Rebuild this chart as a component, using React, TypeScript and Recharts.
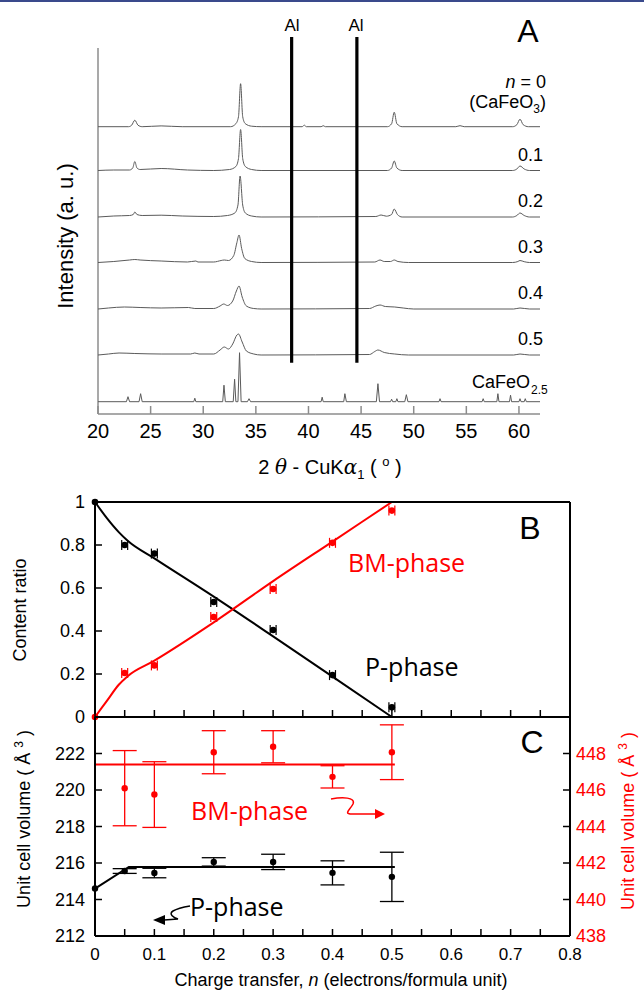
import React from 'react';
import { ComposedChart, Line, Scatter, XAxis, YAxis, ErrorBar } from 'recharts';

const ARIAL = '"Liberation Sans", Arial, sans-serif';
const PHASE = '"Open Sans", sans-serif';
const RED = '#ff0000';
const GREY = '#8c8c8c';
const TRACE = '#5a5a5a';

// ---------- panel A: XRD patterns ----------
const twoThetaTicks = [20, 25, 30, 35, 40, 45, 50, 55, 60];
const alPeaks = [38.4, 44.6];
const sampleLabels = ['0.1', '0.2', '0.3', '0.4', '0.5'];

// [2theta, intensity above the pattern's own baseline]
const xrdN00 = [
  [20, 0], [22.9, 0], [23.2, 1.5], [23.5, 6.5], [23.8, 1.5], [24.2, 0], [26, 0.8], [28, 0],
  [32.6, 0], [33.1, 3], [33.35, 10], [33.55, 43], [33.75, 10], [34.0, 3], [34.6, 0.5], [35.5, 0],
  [39.4, 0], [39.6, 1.5], [39.8, 0], [41.2, 0], [41.4, 1], [41.6, 0],
  [47.5, 0], [47.9, 3], [48.15, 14.5], [48.4, 3], [48.9, 0], [54.0, 0], [54.4, 1], [54.8, 0],
  [59.4, 0], [59.8, 2], [60.1, 7.5], [60.4, 2], [60.9, 0], [62, 0],
];
const xrdN01 = [
  [20, 0], [21.5, 0.5], [23.0, 0.5], [23.3, 2.5], [23.5, 9], [23.7, 2.5], [24.0, 1], [26, 2], [28.5, 0.5],
  [31, 0], [32.5, 1], [33.1, 4], [33.35, 12], [33.55, 41], [33.75, 12], [34.0, 4], [34.6, 1], [35.5, 0],
  [47.5, 0], [47.9, 2.5], [48.15, 9.5], [48.4, 2.5], [48.9, 0],
  [59.4, 0], [59.8, 1.5], [60.1, 4.5], [60.5, 1.5], [61, 0], [62, 0],
];
const xrdN02 = [
  [20, 0], [21.5, 1], [23.0, 1.5], [23.35, 2.5], [23.5, 5], [23.7, 2.5], [24.2, 1.5], [26, 1.8], [28, 1],
  [31, 0.5], [32.3, 1.5], [33.0, 4], [33.3, 12], [33.5, 41], [33.75, 12], [34.0, 4], [34.6, 1], [35.5, 0],
  [46.4, 0.5], [46.9, 2], [47.4, 0.8], [47.9, 2.5], [48.15, 8], [48.45, 2.5], [48.9, 0],
  [59.4, 0], [59.8, 1.5], [60.1, 4], [60.5, 1.5], [61, 0], [62, 0],
];
const xrdN03 = [
  [20, 0], [21.5, 1], [23.0, 2.5], [23.5, 3], [24.0, 2.5], [26, 1.5], [28.5, 0.5], [29.3, 1.5], [29.5, 0.5],
  [31, 0.5], [31.7, 2], [32.0, 2.5], [32.4, 2], [32.9, 7], [33.2, 20], [33.4, 27.5], [33.65, 14], [33.95, 4],
  [34.6, 1], [35.5, 0], [46.3, 0.5], [46.8, 2.5], [47.2, 1], [47.8, 1], [48.15, 2.5], [48.5, 1], [49.5, 0],
  [59.4, 0], [59.9, 1], [60.1, 2], [60.5, 0.8], [61, 0], [62, 0],
];
const xrdN04 = [
  [20, 0], [21, 1], [22.5, 2], [24, 1.5], [26, 1], [28.6, 1.5], [29.2, 0.5], [31, 0.5], [31.6, 3],
  [31.95, 5], [32.3, 3.5], [32.8, 8], [33.15, 18], [33.4, 23], [33.7, 12], [34.1, 3], [34.8, 0.5], [35.5, 0],
  [45.8, 0.5], [46.4, 3], [46.8, 4], [47.3, 2.5], [48.2, 2], [49, 1], [50, 0],
  [59.5, 0], [60.1, 1], [61, 0], [62, 0],
];
const xrdN05 = [
  [20, 0], [21, 1], [22.0, 2], [23.5, 1.5], [26, 1], [28.8, 1], [29.2, 2], [29.6, 1], [31, 1],
  [31.6, 5], [32.0, 8], [32.4, 6], [32.8, 11], [33.2, 20], [33.35, 21], [33.7, 13], [34.1, 4], [34.8, 1],
  [35.5, 0], [45.8, 0.5], [46.3, 3.5], [46.6, 5], [47.2, 2.5], [48.2, 1], [49.5, 0],
  [59.5, 0], [60.1, 1], [61, 0], [62, 0],
];
const xrdBrownmillerite = [
  [20, 0], [22.7, 0], [22.85, 5], [23.0, 0], [23.9, 0], [24.05, 8], [24.2, 0], [29.1, 0], [29.2, 3.5],
  [29.3, 0], [31.85, 0], [31.97, 16.5], [32.1, 0], [32.85, 0], [32.98, 22.5], [33.1, 0], [33.3, 0],
  [33.45, 49], [33.6, 0], [34.2, 0], [34.35, 3], [34.5, 0], [41.2, 0], [41.3, 4.5], [41.4, 0],
  [43.35, 0], [43.46, 8], [43.6, 0], [46.45, 0], [46.6, 18], [46.75, 0], [47.8, 0], [47.9, 2.5],
  [48.0, 0], [48.3, 0], [48.4, 3], [48.5, 0], [49.15, 0], [49.3, 7], [49.45, 0], [52.4, 0], [52.5, 3],
  [52.6, 0], [56.5, 0], [56.6, 3], [56.7, 0], [57.9, 0], [58.0, 8], [58.1, 0], [59.1, 0], [59.2, 6.5],
  [59.3, 0], [60.0, 0], [60.1, 3], [60.2, 0], [60.5, 0], [60.6, 3], [60.7, 0], [62, 0],
];
const xrdPatterns = [xrdN00, xrdN01, xrdN02, xrdN03, xrdN04, xrdN05, xrdBrownmillerite];
// vertical stacking of the patterns (plot units = px above the 2theta axis)
const stackBase = [287.3, 243.5, 197, 151.5, 105, 59, 12.3];

// ---------- panel B: content ratio ----------
const nTicks = [0, 0.05, 0.1, 0.15, 0.2, 0.25, 0.3, 0.35, 0.4, 0.45, 0.5, 0.55, 0.6, 0.65, 0.7, 0.75, 0.8];
const ratioTicks = [0, 0.2, 0.4, 0.6, 0.8, 1];
const nSamples = [0, 0.05, 0.1, 0.2, 0.3, 0.4, 0.5];
const pContent = [1, 0.8, 0.76, 0.535, 0.405, 0.195, 0.045];
const bmContent = [0, 0.205, 0.24, 0.465, 0.595, 0.81, 0.96];
const contentErr = [0, 0.005, 0.005, 0.005, 0.005, 0.005, 0.005];
const fitN = [0, 0.02, 0.04, 0.055, 0.1, 0.2, 0.3, 0.4, 0.5];
const pContentFit = [1, 0.925, 0.86, 0.82, 0.738, 0.56, 0.375, 0.188, 0];
const bmContentFit = [0, 0.075, 0.15, 0.19, 0.262, 0.44, 0.632, 0.816, 1];

// ---------- panel C: unit cell volume ----------
const pVolTicks = [212, 214, 216, 218, 220, 222];
const bmVolTicks = [438, 440, 442, 444, 446, 448];
const pVol = [214.6, 215.56, 215.45, 216.06, 216.06, 215.46, 215.24];
const pVolErr = [0, 0.13, 0.26, 0.23, 0.42, 0.66, 1.35];
const bmN = [0.05, 0.1, 0.2, 0.3, 0.4, 0.5];
const bmVol = [446.1, 445.75, 448.07, 448.37, 446.72, 448.07];
const bmVolErr = [2.06, 1.8, 1.18, 0.88, 0.61, 1.5];
const pVolFitN = [0, 0.057, 0.505];
const pVolFit = [214.6, 215.78, 215.78];
const bmVolFitN = [0, 0.505];
const bmVolFit = [447.4, 447.4];

const pts = (xs: number[], ys: number[], errs?: number[], key = 'e') =>
  xs.map((x, i) => ({ x, y: ys[i], ...(errs ? { [key]: errs[i] } : {}) }));

const fmt = (v: number) => String(v);

// ticks drawn by hand so they point into the plot
const bottomTick = (len: number, size: number, dy: number, color: string, every?: (v: number) => boolean) =>
  (p: any) => {
    const v = p.payload.value;
    return (
      <g>
        <line x1={p.x} x2={p.x} y1={p.y} y2={p.y - len} stroke={color} strokeWidth={1.5} />
        {every && every(v) ? (
          <text x={p.x} y={p.y + dy} textAnchor="middle" fontSize={size} fontFamily={ARIAL} fill="#000">
            {fmt(v)}
          </text>
        ) : null}
      </g>
    );
  };
const topTick = (p: any) => (
  <line x1={p.x} x2={p.x} y1={p.y} y2={p.y + 7} stroke="#000" strokeWidth={1.5} />
);
const leftTick = (color: string) => (p: any) => (
  <g>
    <line x1={p.x} x2={p.x + 7} y1={p.y} y2={p.y} stroke="#000" strokeWidth={1.5} />
    <text x={p.x - 10} y={p.y + 6} textAnchor="end" fontSize={18} fontFamily={ARIAL} fill={color}>
      {fmt(p.payload.value)}
    </text>
  </g>
);
const rightTick = (color: string | null) => (p: any) => (
  <g>
    <line x1={p.x} x2={p.x - 7} y1={p.y} y2={p.y} stroke="#000" strokeWidth={1.5} />
    {color ? (
      <text x={p.x + 6} y={p.y + 6} textAnchor="start" fontSize={18} fontFamily={ARIAL} fill={color}>
        {fmt(p.payload.value)}
      </text>
    ) : null}
  </g>
);

const dot = (color: string, r: number) => (p: any) => <circle cx={p.cx} cy={p.cy} r={r} fill={color} />;

const frame = { stroke: '#000', strokeWidth: 2 };
const onTenth = (v: number) => Math.round(v * 100) % 10 === 0;

const Txt = ({ x, y, anchor = 'middle', size = 18, color = '#000', rotate = 0, family = ARIAL, children }: any) => {
  const tx = anchor === 'middle' ? '-50%' : anchor === 'end' ? '-100%' : '0';
  return (
    <div
      style={{
        position: 'absolute',
        left: x,
        top: y,
        transform: `translate(${tx}, -50%)${rotate ? ` rotate(${rotate}deg)` : ''}`,
        fontFamily: family,
        fontSize: size,
        color,
        lineHeight: 1,
        whiteSpace: 'nowrap',
      }}
    >
      {children}
    </div>
  );
};

const sub = (s: string, size = 12) => (
  <span style={{ fontSize: size, verticalAlign: 'sub', lineHeight: 0 }}>{s}</span>
);
const sup = (s: string, size = 12) => (
  <span style={{ fontSize: size, verticalAlign: 'super', lineHeight: 0 }}>{s}</span>
);

const XrdPanel = () => (
  <ComposedChart width={644} height={480} margin={{ top: 37, right: 104, bottom: 6, left: 98 }}>
    <XAxis
      type="number"
      dataKey="x"
      domain={[20, 62]}
      ticks={twoThetaTicks}
      interval={0}
      height={60}
      tickSize={0}
      tickMargin={0}
      tickLine={false}
      axisLine={{ stroke: GREY, strokeWidth: 1.5 }}
      tick={bottomTick(8, 20, 24, GREY, () => true)}
    />
    <YAxis type="number" dataKey="y" domain={[0, 377]} hide />
    <Line
      data={[{ x: 20, y: 0 }, { x: 20, y: 366 }]}
      dataKey="y"
      stroke={GREY}
      strokeWidth={1.5}
      dot={false}
      activeDot={false}
      isAnimationActive={false}
    />
    {xrdPatterns.map((pat, i) => (
      <Line
        key={i}
        data={pat.map(([x, v]) => ({ x, y: v + stackBase[i] }))}
        dataKey="y"
        type={i === 6 ? 'linear' : 'monotone'}
        stroke={TRACE}
        strokeWidth={1}
        dot={false}
        activeDot={false}
        isAnimationActive={false}
      />
    ))}
    {alPeaks.map((a) => (
      <Line
        key={a}
        data={[{ x: a, y: 51.3 }, { x: a, y: 377 }]}
        dataKey="y"
        stroke="#000"
        strokeWidth={3.2}
        dot={false}
        activeDot={false}
        isAnimationActive={false}
      />
    ))}
  </ComposedChart>
);

const ContentPanel = () => (
  <ComposedChart width={644} height={260} margin={{ top: 12, right: 34, bottom: 13, left: 55 }}>
    <XAxis xAxisId="b" type="number" dataKey="x" domain={[0, 0.8]} ticks={nTicks} interval={0} height={10}
      tickSize={0} tickMargin={0} tickLine={false} axisLine={frame} tick={bottomTick(7, 17, 24, '#000')} />
    <XAxis xAxisId="t" orientation="top" type="number" dataKey="x" domain={[0, 0.8]} ticks={nTicks} interval={0}
      height={10} tickSize={0} tickMargin={0} tickLine={false} axisLine={frame} tick={topTick} />
    <YAxis yAxisId="l" type="number" dataKey="y" domain={[0, 1]} ticks={ratioTicks} interval={0} width={40}
      tickSize={0} tickMargin={0} tickLine={false} axisLine={frame} tick={leftTick('#000')} />
    <YAxis yAxisId="r" orientation="right" type="number" dataKey="y" domain={[0, 1]} ticks={ratioTicks} interval={0}
      width={40} tickSize={0} tickMargin={0} tickLine={false} axisLine={frame} tick={rightTick(null)} />
    <Line xAxisId="b" yAxisId="l" data={pts(fitN, pContentFit)} dataKey="y" type="monotone" stroke="#000"
      strokeWidth={2} dot={false} activeDot={false} isAnimationActive={false} />
    <Line xAxisId="b" yAxisId="l" data={pts(fitN, bmContentFit)} dataKey="y" type="monotone" stroke={RED}
      strokeWidth={2} dot={false} activeDot={false} isAnimationActive={false} />
    <Scatter xAxisId="b" yAxisId="l" data={pts(nSamples, pContent, contentErr)} dataKey="y" shape={dot('#000', 3.3)}
      isAnimationActive={false}>
      <ErrorBar dataKey="e" direction="x" width={5} stroke="#000" strokeWidth={1.2} />
    </Scatter>
    <Scatter xAxisId="b" yAxisId="l" data={pts(nSamples, bmContent, contentErr)} dataKey="y" shape={dot(RED, 3.3)}
      isAnimationActive={false}>
      <ErrorBar dataKey="e" direction="x" width={5} stroke={RED} strokeWidth={1.2} />
    </Scatter>
  </ComposedChart>
);

const VolumePanel = () => (
  <ComposedChart width={644} height={291} margin={{ top: 7, right: 34, bottom: 25, left: 55 }}>
    <XAxis xAxisId="b" type="number" dataKey="x" domain={[0, 0.8]} ticks={nTicks} interval={0} height={30}
      tickSize={0} tickMargin={0} tickLine={false} axisLine={frame} tick={bottomTick(7, 17, 24, '#000', onTenth)} />
    <XAxis xAxisId="t" orientation="top" type="number" dataKey="x" domain={[0, 0.8]} ticks={nTicks} interval={0}
      height={10} tickSize={0} tickMargin={0} tickLine={false} axisLine={frame} tick={topTick} />
    <YAxis yAxisId="l" type="number" dataKey="y" domain={[212, 224]} ticks={pVolTicks} interval={0} width={40}
      tickSize={0} tickMargin={0} tickLine={false} axisLine={frame} tick={leftTick('#000')} />
    <YAxis yAxisId="r" orientation="right" type="number" dataKey="y" domain={[438, 450]} ticks={bmVolTicks}
      interval={0} width={40} tickSize={0} tickMargin={0} tickLine={false} axisLine={frame} tick={rightTick(RED)} />
    <Line xAxisId="b" yAxisId="l" data={pts(pVolFitN, pVolFit)} dataKey="y" stroke="#000" strokeWidth={2}
      dot={false} activeDot={false} isAnimationActive={false} />
    <Line xAxisId="b" yAxisId="r" data={pts(bmVolFitN, bmVolFit)} dataKey="y" stroke={RED} strokeWidth={2}
      dot={false} activeDot={false} isAnimationActive={false} />
    <Scatter xAxisId="b" yAxisId="l" data={pts(nSamples, pVol, pVolErr)} dataKey="y" shape={dot('#000', 3.2)}
      isAnimationActive={false}>
      <ErrorBar dataKey="e" direction="y" width={12} stroke="#000" strokeWidth={1.3} />
    </Scatter>
    <Scatter xAxisId="b" yAxisId="r" data={pts(bmN, bmVol, bmVolErr)} dataKey="y" shape={dot(RED, 3.2)}
      isAnimationActive={false}>
      <ErrorBar dataKey="e" direction="y" width={12} stroke={RED} strokeWidth={1.3} />
    </Scatter>
  </ComposedChart>
);

export default function App() {
  const lbl = 414;
  return (
    <div style={{ position: 'relative', width: 644, height: 991, background: '#fff', overflow: 'hidden' }}>
      <style>{'body{margin:0}'}</style>
      <div style={{ position: 'absolute', left: 0, top: 0, width: 644, height: 2, background: '#3a4a8c' }} />

      <div style={{ position: 'absolute', left: 0, top: 0 }}>
        <XrdPanel />
      </div>
      <div style={{ position: 'absolute', left: 0, top: 480 }}>
        <ContentPanel />
      </div>
      <div style={{ position: 'absolute', left: 0, top: 700 }}>
        <VolumePanel />
      </div>

      {/* panel A text */}
      {alPeaks.map((a, i) => (
        <Txt key={a} x={i === 0 ? 292 : 356} y={25} size={17}>Al</Txt>
      ))}
      <Txt x={528} y={31} size={32}>A</Txt>
      <Txt x={546} y={82} anchor="end"><i>n</i> = 0</Txt>
      <Txt x={546} y={102} anchor="end">(CaFeO{sub('3')})</Txt>
      {sampleLabels.map((s, i) => (
        <Txt key={s} x={543} y={lbl - stackBase[i + 1] - 16} anchor="end">{s}</Txt>
      ))}
      <Txt x={530} y={382} anchor="end">CaFeO</Txt>
      <Txt x={531} y={390} anchor="start" size={12}>2.5</Txt>
      <Txt x={66} y={236} size={22} rotate={-90}>Intensity (a. u.)</Txt>
      <Txt x={330} y={467} size={20}>
        2 <i style={{ fontFamily: '"DejaVu Serif", serif' }}>θ</i> - CuK<i style={{ fontFamily: '"DejaVu Serif", serif' }}>α</i>
        {sub('1', 13)} ( {sup('o', 13)} )
      </Txt>

      {/* panel B/C text */}
      <Txt x={530} y={528} size={32}>B</Txt>
      <Txt x={532} y={742} size={32}>C</Txt>
      <Txt x={20} y={610} rotate={-90}>Content ratio</Txt>
      <Txt x={24} y={819} rotate={-90}>Unit cell volume ( Å {sup('3')} )</Txt>
      <Txt x={628} y={821} rotate={-90} color={RED}>Unit cell volume ( Å {sup('3')} )</Txt>
      <Txt x={341} y={980}>Charge transfer, <i>n</i> (electrons/formula unit)</Txt>
      <Txt x={348} y={562} anchor="start" size={25} family={PHASE} color={RED}>BM-phase</Txt>
      <Txt x={365} y={666} anchor="start" size={25} family={PHASE}>P-phase</Txt>
      <Txt x={191} y={810} anchor="start" size={25} family={PHASE} color={RED}>BM-phase</Txt>
      <Txt x={190} y={906} anchor="start" size={25} family={PHASE}>P-phase</Txt>

      <svg width={644} height={991} style={{ position: 'absolute', left: 0, top: 0, pointerEvents: 'none' }}>
        <path d="M 331 799 C 342 797, 356 797, 353 804 C 350 810, 343 814, 352 814 L 376 814"
          fill="none" stroke={RED} strokeWidth={1.5} />
        <polygon points="375,809 385,814 375,819" fill={RED} />
        <path d="M 190 906 C 184 907, 178 908, 173 911 C 168 914, 174 918, 178 919 L 164 920"
          fill="none" stroke="#000" strokeWidth={1.5} />
        <polygon points="165,915 153,920 165,925" fill="#000" />
      </svg>
    </div>
  );
}
